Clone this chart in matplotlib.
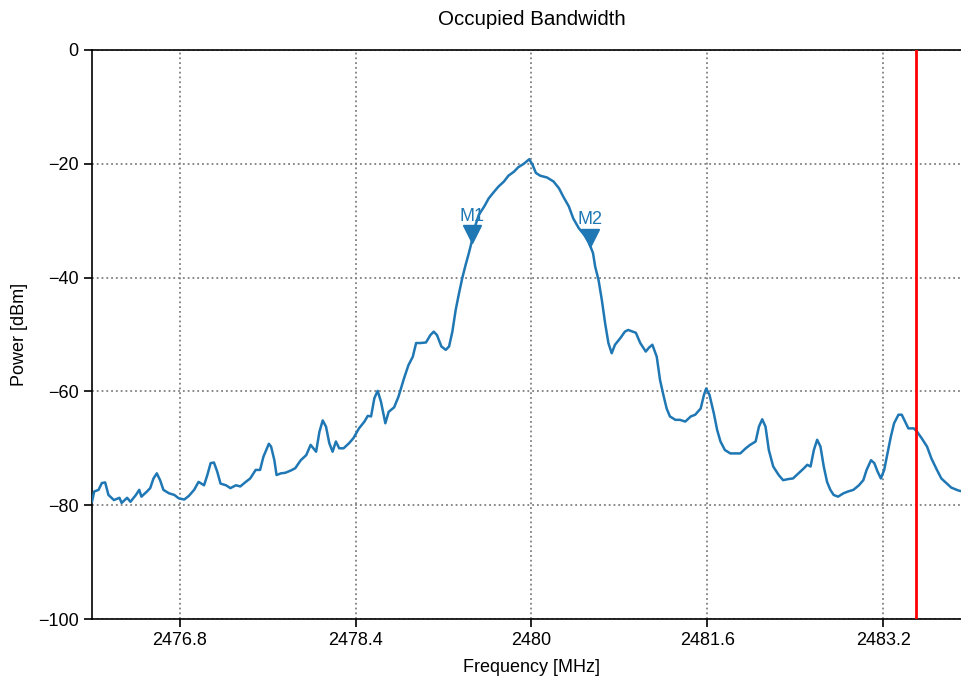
import numpy as np
import matplotlib.pyplot as plt

plt.rcParams['font.family'] = ['Liberation Sans', 'DejaVu Sans']

# spectrum trace, frequency in MHz and power in dBm
freq = [
    2476.00, 2476.02, 2476.06, 2476.09, 2476.12, 2476.15, 2476.20, 2476.25, 2476.27, 2476.32,
    2476.35, 2476.40, 2476.43, 2476.45, 2476.50, 2476.53, 2476.56, 2476.59, 2476.62, 2476.65,
    2476.70, 2476.75, 2476.79, 2476.84, 2476.88, 2476.93, 2476.97, 2477.02, 2477.05, 2477.08,
    2477.11, 2477.14, 2477.17, 2477.22, 2477.26, 2477.31, 2477.35, 2477.40, 2477.44, 2477.49,
    2477.53, 2477.56, 2477.61, 2477.63, 2477.66, 2477.68, 2477.72, 2477.76, 2477.81, 2477.85,
    2477.90, 2477.95, 2477.99, 2478.04, 2478.07, 2478.10, 2478.13, 2478.16, 2478.19, 2478.22,
    2478.25, 2478.29, 2478.34, 2478.38, 2478.43, 2478.48, 2478.51, 2478.54, 2478.57, 2478.60,
    2478.63, 2478.67, 2478.70, 2478.75, 2478.79, 2478.84, 2478.88, 2478.92, 2478.95, 2478.99,
    2479.04, 2479.08, 2479.11, 2479.14, 2479.18, 2479.22, 2479.25, 2479.28, 2479.31, 2479.34,
    2479.37, 2479.40, 2479.43, 2479.46, 2479.49, 2479.52, 2479.57, 2479.61, 2479.66, 2479.70,
    2479.75, 2479.79, 2479.84, 2479.88, 2479.93, 2479.98, 2480.01, 2480.04, 2480.08, 2480.14,
    2480.20, 2480.25, 2480.29, 2480.34, 2480.38, 2480.43, 2480.48, 2480.52, 2480.56, 2480.58,
    2480.61, 2480.64, 2480.67, 2480.70, 2480.73, 2480.76, 2480.81, 2480.85, 2480.88, 2480.95,
    2480.99, 2481.04, 2481.07, 2481.10, 2481.14, 2481.17, 2481.20, 2481.23, 2481.26, 2481.31,
    2481.35, 2481.40, 2481.45, 2481.49, 2481.54, 2481.57, 2481.59, 2481.62, 2481.66, 2481.69,
    2481.72, 2481.76, 2481.81, 2481.85, 2481.90, 2481.95, 2481.99, 2482.04, 2482.07, 2482.10,
    2482.13, 2482.16, 2482.20, 2482.25, 2482.29, 2482.34, 2482.38, 2482.43, 2482.48, 2482.51,
    2482.54, 2482.57, 2482.60, 2482.63, 2482.66, 2482.69, 2482.72, 2482.75, 2482.79, 2482.84,
    2482.88, 2482.93, 2482.98, 2483.02, 2483.05, 2483.09, 2483.12, 2483.15, 2483.18, 2483.21,
    2483.24, 2483.27, 2483.30, 2483.34, 2483.37, 2483.40, 2483.43, 2483.48, 2483.51, 2483.55,
    2483.60, 2483.64, 2483.69, 2483.73, 2483.78, 2483.82, 2483.87, 2483.90, 2484.00,
]
power = [
    -79.4, -77.6, -77.3, -76.1, -76.0, -78.2, -79.1, -78.7, -79.6, -78.7,
    -79.4, -78.2, -77.3, -78.5, -77.6, -77.0, -75.3, -74.4, -75.6, -77.3,
    -77.9, -78.2, -78.8, -79.0, -78.4, -77.3, -75.9, -76.5, -74.7, -72.6,
    -72.5, -74.1, -76.2, -76.5, -77.0, -76.5, -76.7, -75.9, -75.3, -73.8,
    -73.8, -71.5, -69.2, -69.7, -72.1, -74.7, -74.4, -74.3, -73.9, -73.5,
    -72.1, -71.2, -69.4, -70.6, -67.1, -65.1, -66.2, -69.1, -70.6, -68.8,
    -70.0, -70.0, -69.1, -68.2, -66.5, -65.3, -64.3, -64.4, -61.2, -59.9,
    -61.8, -65.6, -63.6, -62.8, -60.9, -57.7, -55.4, -53.9, -51.5, -51.5,
    -51.4, -50.1, -49.5, -50.1, -52.1, -52.7, -52.1, -49.5, -45.7, -42.8,
    -40.1, -37.8, -35.7, -33.4, -30.8, -29.0, -27.5, -26.1, -24.9, -24.0,
    -23.1, -22.1, -21.4, -20.6, -20.0, -19.2, -20.2, -21.6, -22.1, -22.4,
    -23.1, -24.3, -25.8, -27.5, -29.6, -31.3, -32.5, -33.7, -35.7, -38.1,
    -40.4, -43.9, -48.0, -51.5, -53.3, -51.8, -50.6, -49.5, -49.2, -49.7,
    -51.5, -53.0, -52.3, -51.8, -53.9, -58.0, -60.6, -63.0, -64.4, -65.0,
    -65.0, -65.3, -64.4, -64.1, -63.0, -60.6, -59.5, -60.6, -63.9, -66.8,
    -68.8, -70.3, -70.9, -70.9, -70.9, -70.0, -69.4, -68.8, -66.2, -64.9,
    -66.2, -70.3, -73.2, -74.7, -75.6, -75.4, -75.3, -74.4, -73.5, -72.9,
    -73.2, -70.3, -68.5, -69.7, -73.2, -75.9, -77.3, -78.2, -78.5, -77.9,
    -77.6, -77.3, -76.5, -75.6, -73.8, -72.1, -72.6, -74.1, -75.3, -73.8,
    -70.9, -68.0, -65.6, -64.1, -64.1, -65.3, -66.5, -66.5, -67.1, -68.2,
    -69.7, -71.8, -73.8, -75.3, -76.2, -76.9, -77.3, -77.5, -77.8,
]

# occupied bandwidth markers
marker_names = ['M1', 'M2']
marker_freq = [2479.46, 2480.53]
marker_power = [-32.4, -33.0]

band_edge = 2483.5

xticks = [2476.8, 2478.4, 2480.0, 2481.6, 2483.2]
xtick_labels = ['2476.8', '2478.4', '2480', '2481.6', '2483.2']
yticks = [0, -20, -40, -60, -80, -100]

blue = '#1f77b4'

fig = plt.figure(figsize=(9.61, 6.8), dpi=100)
ax = fig.add_axes([0.0957, 0.0897, 0.9147, 0.8368])

ax.plot(freq, power, color=blue, linewidth=1.8, zorder=3)
ax.axvline(band_edge, color='red', linewidth=2, zorder=4)

ax.plot(marker_freq, marker_power, linestyle='none', marker='v',
        markersize=13, color=blue, zorder=5)
for name, f, p in zip(marker_names, marker_freq, marker_power):
    ax.annotate(name, (f, p), xytext=(0, 7), textcoords='offset points',
                ha='center', va='bottom', color=blue, fontsize=13)

ax.set_xlim(2476.0, 2484.0)
ax.set_ylim(-100, 0)
ax.set_xticks(xticks)
ax.set_xticklabels(xtick_labels)
ax.set_yticks(yticks)
ax.tick_params(axis='both', labelsize=13, length=6, width=1.2, direction='out')
ax.grid(True, linestyle=':', color='gray', linewidth=1.3)

for side in ['top', 'bottom', 'left', 'right']:
    ax.spines[side].set_linewidth(1.2)

ax.set_xlabel('Frequency [MHz]', fontsize=13, labelpad=7)
ax.set_ylabel('Power [dBm]', fontsize=13, labelpad=7)
ax.set_title('Occupied Bandwidth', fontsize=14.8, pad=18)

fig.savefig('out.png', dpi=100)
